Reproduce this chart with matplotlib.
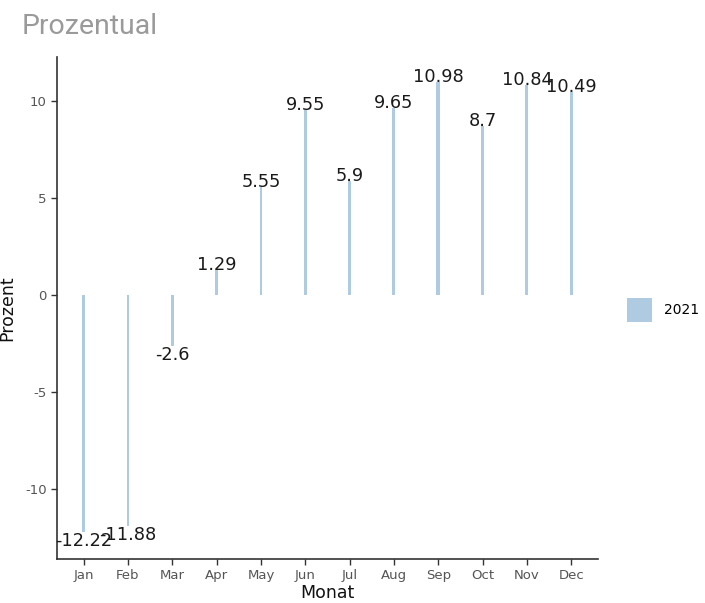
import matplotlib
matplotlib.use("Agg")
import matplotlib.pyplot as plt
from matplotlib.patches import Patch

months = ["Jan", "Feb", "Mar", "Apr", "May", "Jun", "Jul", "Aug", "Sep", "Oct", "Nov", "Dec"]
values = [-12.22, -11.88, -2.6, 1.29, 5.55, 9.55, 5.9, 9.65, 10.98, 8.7, 10.84, 10.49]
series_name = "2021"
ylim = (-13.6, 12.27)
yticks = [-10, -5, 0, 5, 10]

color = "#aecbe1"
fig = plt.figure(figsize=(7.05, 6.03), dpi=100)
ax = fig.add_axes([0.0809, 0.073, 0.848 - 0.0809, 0.9055 - 0.073])

x = list(range(len(months)))
widths = [0.1 if m == "Sep" else 0.065 for m in months]
ax.bar(x, values, width=widths, color=color, zorder=2)

for xi, v in zip(x, values):
    label = f"{v:g}"
    ax.text(xi, v, label, ha="center", va="baseline" if v >= 0 else "top",
            fontsize=12.8, color="#1a1a1a", zorder=3)

ax.set_xlim(-0.6, 11.6)
ax.set_ylim(*ylim)
ax.set_xticks(x)
ax.set_xticklabels(months)
ax.set_yticks(yticks)
ax.set_yticklabels([str(t) for t in yticks])

for s in ["top", "right"]:
    ax.spines[s].set_visible(False)
for s in ["left", "bottom"]:
    ax.spines[s].set_color("#333333")
    ax.spines[s].set_linewidth(1.2)
ax.tick_params(axis="both", colors="#333333", labelcolor="#555555", labelsize=9.5, length=4, width=1)

ax.set_xlabel("Monat", fontsize=12.5, color="#111111", labelpad=1)
ax.set_ylabel("Prozent", fontsize=12.5, color="#111111", labelpad=6)

fig.text(22 / 705, 1 - 27 / 603, "Prozentual", fontsize=20.5, color="#9a9a9a",
         family=["Roboto", "DejaVu Sans"], ha="left", va="center")

leg = fig.legend(handles=[Patch(facecolor=color, edgecolor="none", label=series_name)],
                 loc="center left", bbox_to_anchor=(624 / 705, 1 - 310 / 603),
                 frameon=False, fontsize=10, handlelength=1.85, handleheight=2.3,
                 handletextpad=0.8, borderpad=0.2, borderaxespad=0)

fig.savefig("out.png", dpi=100)
